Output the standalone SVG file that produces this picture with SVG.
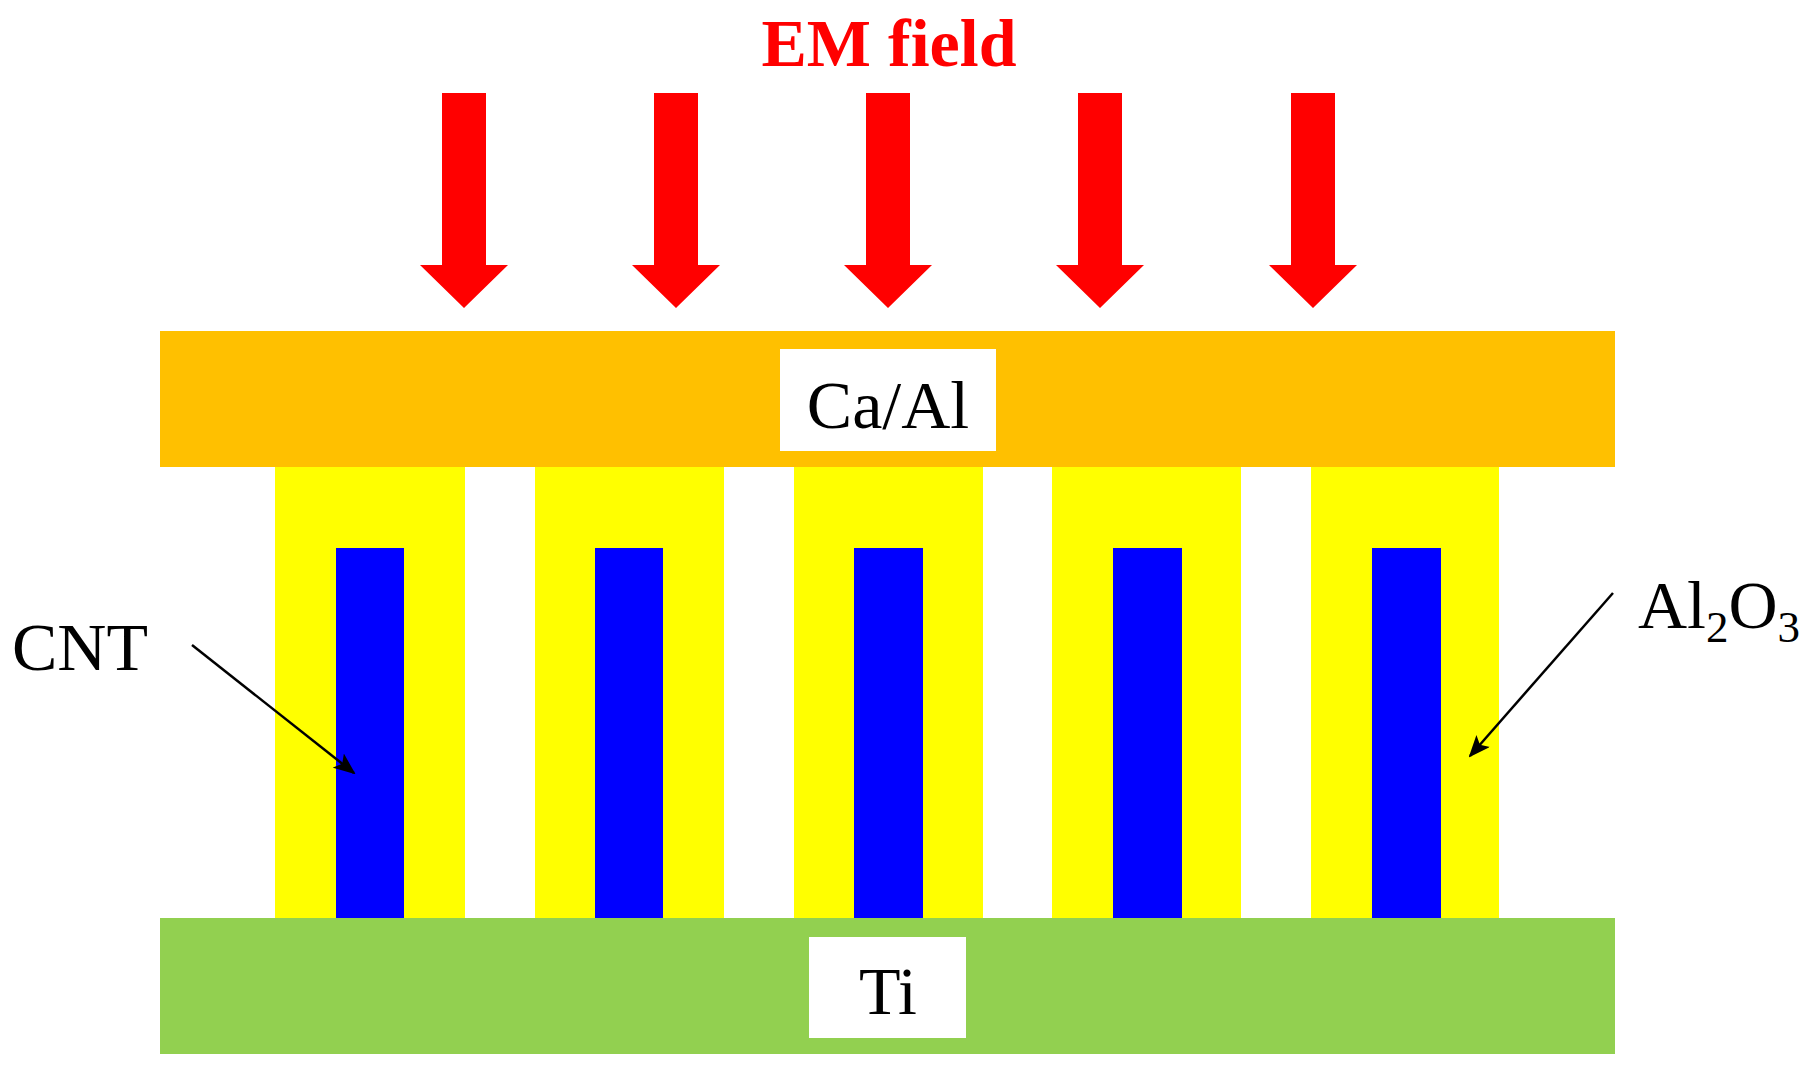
<svg xmlns="http://www.w3.org/2000/svg" width="1813" height="1066" viewBox="0 0 1813 1066">
<style>
.t{font-family:"Liberation Serif",serif;font-size:68px;fill:#000}
.ar{fill:#FF0000}
.y{fill:#FFFF00}.b{fill:#0000FF}
.ln{stroke:#000;stroke-width:2.5;fill:none}
</style>
<defs>
<marker id="ah2" markerWidth="22" markerHeight="18" refX="20" refY="9" orient="auto" markerUnits="userSpaceOnUse"><path d="M0,0 L22,9 L0,18 L5,9 z" fill="#000"/></marker>
<path id="arr" d="M-22,93 H22 V265 H44 L0,308 L-44,265 H-22 Z"/>
</defs>
<rect width="1813" height="1066" fill="#fff"/>
<text x="889" y="66" text-anchor="middle" style="font-family:'Liberation Serif',serif;font-weight:bold;font-size:68px;fill:#FF0000">EM field</text>
<g id="arrows" class="ar">
<use href="#arr" x="464"/><use href="#arr" x="676"/><use href="#arr" x="888"/><use href="#arr" x="1100"/><use href="#arr" x="1313"/>
</g>
<g id="caal"><rect x="160" y="331" width="1455" height="136" fill="#FFC000"/><rect x="780" y="349" width="216" height="102" fill="#fff"/><text class="t" x="888" y="428" text-anchor="middle">Ca/Al</text></g>
<g id="columns">
<rect class="y" x="275" y="467" width="190" height="451"/><rect class="y" x="535" y="467" width="189" height="451"/><rect class="y" x="794" y="467" width="189" height="451"/><rect class="y" x="1052" y="467" width="189" height="451"/><rect class="y" x="1311" y="467" width="188" height="451"/>
</g>
<g id="cnts">
<rect class="b" x="336" y="548" width="68" height="370"/><rect class="b" x="595" y="548" width="68" height="370"/><rect class="b" x="854" y="548" width="69" height="370"/><rect class="b" x="1113" y="548" width="69" height="370"/><rect class="b" x="1372" y="548" width="69" height="370"/>
</g>
<g id="ti"><rect x="160" y="918" width="1455" height="136" fill="#92D050"/><rect x="809" y="937" width="157" height="101" fill="#fff"/><text class="t" x="888" y="1014" text-anchor="middle">Ti</text></g>
<g id="labels">
<text class="t" x="12" y="670">CNT</text>
<text class="t" x="1638" y="628">Al<tspan font-size="45" dy="14">2</tspan><tspan dy="-14">O</tspan><tspan font-size="45" dy="14">3</tspan></text>
</g>
<g id="connectors">
<line class="ln" x1="192" y1="645" x2="354" y2="773" marker-end="url(#ah2)"/>
<line class="ln" x1="1613" y1="593" x2="1470" y2="756" marker-end="url(#ah2)"/>
</g>
</svg>
